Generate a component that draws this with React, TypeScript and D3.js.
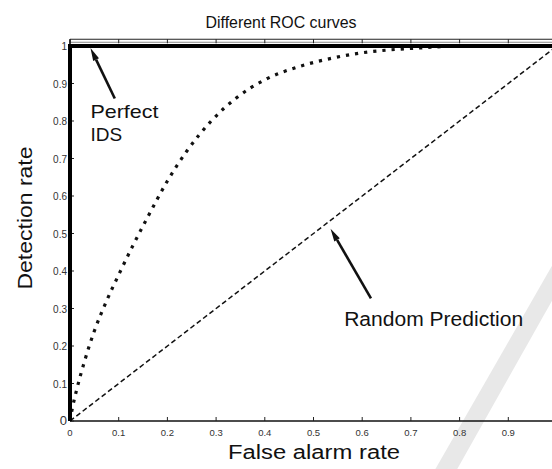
import * as d3 from 'd3';

// ROC curve data
const perfectFpr = [0, 0, 1];
const perfectTpr = [0, 1, 1];

const typicalFpr = [0, 0.005, 0.015, 0.03, 0.05, 0.075, 0.1, 0.13, 0.16, 0.2, 0.24, 0.29, 0.34, 0.4, 0.47, 0.54, 0.6, 0.66, 0.72, 0.8, 0.9, 1];
const typicalTpr = [0, 0.035, 0.09, 0.16, 0.24, 0.32, 0.39, 0.47, 0.545, 0.64, 0.72, 0.8, 0.86, 0.91, 0.945, 0.968, 0.982, 0.99, 0.995, 1, 1, 1];

const randomFpr = [0, 1];
const randomTpr = [0, 1];

const xTicks = [0, 0.1, 0.2, 0.3, 0.4, 0.5, 0.6, 0.7, 0.8, 0.9, 1];
const yTicks = [0, 0.1, 0.2, 0.3, 0.4, 0.5, 0.6, 0.7, 0.8, 0.9, 1];
const xTickLabels = ['0', '0.1', '0.2', '0.3', '0.4', '0.5', '0.6', '0.7', '0.8', '0.9', '1'];
const yTickLabels = ['0', '0.1', '0.2', '0.3', '0.4', '0.5', '0.6', '0.7', '0.8', '0.9', '1'];

const title = 'Different ROC curves';
const xLabel = 'False alarm rate';
const yLabel = 'Detection rate';

type Pt = [number, number];
const zip = (xs: number[], ys: number[]): Pt[] => xs.map((v, i) => [v, ys[i]]);

function App() {
  const width = 552;
  const height = 469;
  const font = 'Arial, "Liberation Sans", Helvetica, sans-serif';

  const x = d3.scaleLinear().domain([0, 1]).range([70, 557]);
  const y = d3.scaleLinear().domain([0, 1]).range([421, 46]);

  const straight = d3
    .line<Pt>()
    .x((d) => x(d[0]))
    .y((d) => y(d[1]));
  const smooth = d3
    .line<Pt>()
    .x((d) => x(d[0]))
    .y((d) => y(d[1]))
    .curve(d3.curveMonotoneX);

  const arrow = (tail: Pt, tip: Pt) => {
    const [x1, y1] = [x(tail[0]), y(tail[1])];
    const [x2, y2] = [x(tip[0]), y(tip[1])];
    const ang = Math.atan2(y2 - y1, x2 - x1);
    const len = 13;
    const half = 3.2;
    const bx = x2 - len * Math.cos(ang);
    const by = y2 - len * Math.sin(ang);
    const px = -Math.sin(ang) * half;
    const py = Math.cos(ang) * half;
    return (
      <g>
        <line x1={x1} y1={y1} x2={bx} y2={by} stroke="#111" strokeWidth={2.6} />
        <path d={`M${x2},${y2}L${bx + px},${by + py}L${bx - px},${by - py}Z`} fill="#111" />
      </g>
    );
  };

  // faint publisher watermark stroke at the lower right
  const wm: Pt[] = [
    [1.01, 0.46],
    [1.05, 0.46],
    [0.79, -0.14],
    [0.745, -0.14],
  ];

  return (
    <div style={{ position: 'absolute', left: 0, top: 0 }}>
      <svg width={width} height={height} viewBox={`0 0 ${width} ${height}`} style={{ display: 'block', background: '#fff' }}>
        <path d={`M${wm.map((p) => `${x(p[0])},${y(p[1])}`).join('L')}Z`} fill="#e8e8e8" />

        {/* top frame: double rule */}
        <line x1={x(0)} x2={width} y1={y(1.018)} y2={y(1.018)} stroke="#222" strokeWidth={1.2} />
        <line x1={x(0)} x2={width} y1={y(1.01)} y2={y(1.01)} stroke="#888" strokeWidth={1} />

        {/* axes */}
        <line x1={x(0)} x2={width} y1={y(0)} y2={y(0)} stroke="#111" strokeWidth={1.6} />
        <line x1={x(0)} x2={x(0)} y1={y(0)} y2={y(1.018)} stroke="#111" strokeWidth={1.6} />

        {xTicks.map((t, i) => (
          <g key={`x${t}`}>
            <line x1={x(t)} x2={x(t)} y1={y(0)} y2={y(0) - 4} stroke="#222" strokeWidth={1} />
            <line x1={x(t)} x2={x(t)} y1={y(1.018)} y2={y(1.018) + 4} stroke="#222" strokeWidth={1} />
            {x(t) < width - 8 && (
              <text x={x(t)} y={y(0) + 15} textAnchor="middle" fontSize={9.5} fill="#333" fontFamily={font}>
                {xTickLabels[i]}
              </text>
            )}
          </g>
        ))}
        {yTicks.map((t, i) => (
          <g key={`y${t}`}>
            <line x1={x(0)} x2={x(0) + 4} y1={y(t)} y2={y(t)} stroke="#222" strokeWidth={1} />
            <text x={x(0) - 3} y={y(t) + 4} textAnchor="end" fontSize={t === 0 ? 13 : 10} fill="#333" fontFamily={font}>
              {yTickLabels[i]}
            </text>
          </g>
        ))}

        {/* curves */}
        <path d={straight(zip(randomFpr, randomTpr)) ?? ''} fill="none" stroke="#111" strokeWidth={1.5} strokeDasharray="5 3" />
        <path d={smooth(zip(typicalFpr, typicalTpr)) ?? ''} fill="none" stroke="#111" strokeWidth={3.2} strokeDasharray="3.2 6" />
        <path d={straight(zip(perfectFpr, perfectTpr)) ?? ''} fill="none" stroke="#000" strokeWidth={4} strokeLinejoin="miter" />

        {/* annotations */}
        {arrow([0.092, 0.86], [0.042, 0.995])}
        <text x={x(0.042)} y={y(0.809)} fontSize={19} textLength={68} lengthAdjust="spacingAndGlyphs" fill="#111" fontFamily={font}>
          Perfect
        </text>
        <text x={x(0.042)} y={y(0.748)} fontSize={19} fill="#111" fontFamily={font}>
          IDS
        </text>

        {arrow([0.618, 0.327], [0.535, 0.513])}
        <text x={x(0.563)} y={y(0.253)} fontSize={20} textLength={179} lengthAdjust="spacingAndGlyphs" fill="#111" fontFamily={font}>
          Random Prediction
        </text>

        <text x={281} y={28} textAnchor="middle" fontSize={17} textLength={151} lengthAdjust="spacingAndGlyphs" fill="#111" fontFamily={font}>
          {title}
        </text>
        <text x={314} y={459} textAnchor="middle" fontSize={20} textLength={172} lengthAdjust="spacingAndGlyphs" fill="#111" fontFamily={font}>
          {xLabel}
        </text>
        <text
          transform={`translate(32,218) rotate(-90)`}
          textAnchor="middle"
          fontSize={21}
          textLength={143}
          lengthAdjust="spacingAndGlyphs"
          fill="#111"
          fontFamily={font}
        >
          {yLabel}
        </text>
      </svg>
    </div>
  );
}

export default App;
